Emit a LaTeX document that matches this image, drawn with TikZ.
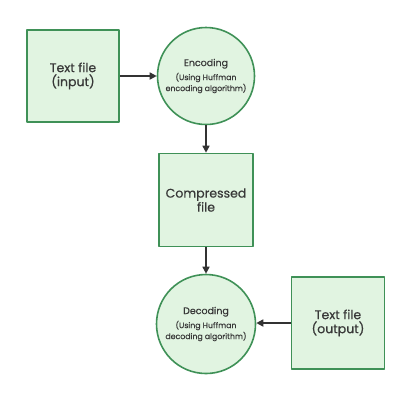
\documentclass[tikz,border=0pt]{standalone}
\usepackage{fontspec}
\setmainfont{Poppins}[FakeBold=0.5]
\usetikzlibrary{arrows.meta}
\definecolor{boxfill}{HTML}{E1F4E1}
\definecolor{boxline}{HTML}{3F9157}
\definecolor{arrowcol}{HTML}{333333}
\begin{document}
\begin{tikzpicture}[x=1pt, y=-1pt, line join=round,
	filebox/.style={draw=boxline, fill=boxfill, line width=1.6pt, minimum width=92pt, minimum height=92pt, align=center, font=\fontsize{12.5}{14}\selectfont, text=black!78},
	stepcircle/.style={draw=boxline, fill=boxfill, line width=1.6pt, circle, minimum size=97pt, inner sep=0pt, align=center, text=black!78},
	flow/.style={-{Triangle[length=7pt, width=7pt]}, draw=arrowcol, line width=1.6pt}]
	\useasboundingbox (0,0) rectangle (411,400);
	
	% Nodes
	\node[filebox] (input) at (73,76) {Text file\\(input)};
	\node[stepcircle] (encode) at (206,76) {{\fontsize{9.5}{11}\selectfont Encoding}\\[2pt]{\fontsize{7.8}{9}\selectfont (Using Huffman}\\[-1pt]{\fontsize{7.8}{9}\selectfont encoding algorithm)}};
	\node[filebox, minimum width=94pt, minimum height=93pt] (compressed) at (206,200) {Compressed\\file};
	\node[stepcircle, minimum size=99pt] (decode) at (206,324) {{\fontsize{9.5}{11}\selectfont Decoding}\\[2pt]{\fontsize{7.8}{9}\selectfont (Using Huffman}\\[-1pt]{\fontsize{7.8}{9}\selectfont decoding algorithm)}};
	\node[filebox, minimum width=93pt] (output) at (338,323) {Text file\\(output)};
	
	% Arrows
	\draw[flow] (input) -- (encode);
	\draw[flow] (encode) -- (compressed);
	\draw[flow] (compressed) -- (decode);
	\draw[flow] (output) -- (output -| decode.east);
\end{tikzpicture}
\end{document}
